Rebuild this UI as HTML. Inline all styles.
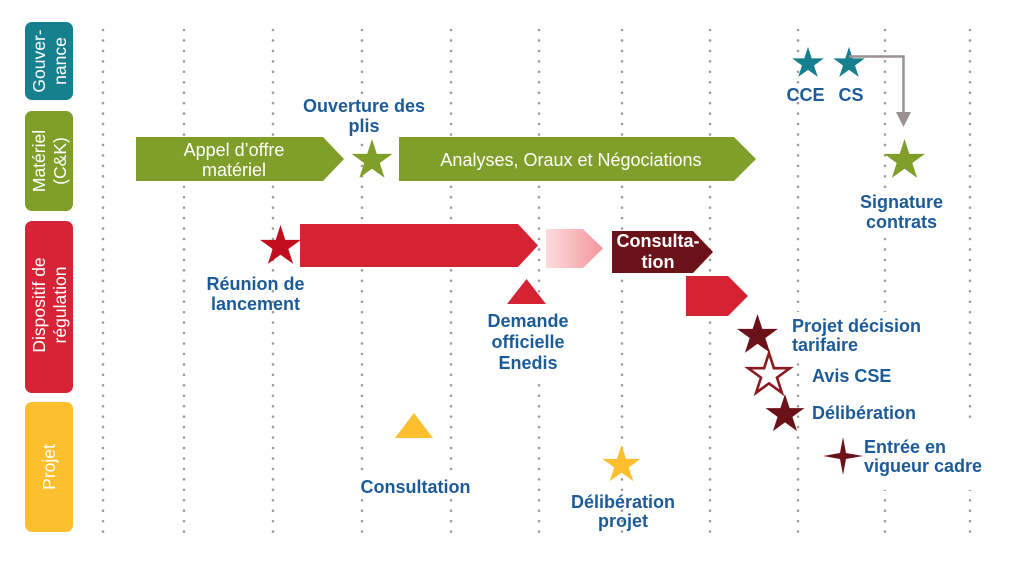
<!DOCTYPE html>
<html><head><meta charset="utf-8">
<style>
html,body{margin:0;padding:0;background:#fff;}
svg{display:block;}
text{font-family:"Liberation Sans",Arial,sans-serif;}
.b{font-weight:bold;font-size:18px;fill:#1d5b98;}
.w{font-size:18px;fill:#fff;}
.lane{font-size:17.5px;fill:#fff;}
</style></head><body>
<svg width="1024" height="562" viewBox="0 0 1024 562" xmlns="http://www.w3.org/2000/svg">
<defs>
<polygon id="st" points="0,-1 0.2245,-0.309 0.9511,-0.309 0.3633,0.118 0.5878,0.809 0,0.382 -0.5878,0.809 -0.3633,0.118 -0.9511,-0.309 -0.2245,-0.309"/>
<linearGradient id="pg" x1="0" y1="0" x2="1" y2="0">
<stop offset="0" stop-color="#fcdde0"/><stop offset="1" stop-color="#f4959b"/>
</linearGradient>
</defs>
<rect width="1024" height="562" fill="#fff"/>

<!-- dotted grid -->
<g stroke="#a39b9b" stroke-width="2.6" stroke-linecap="round" stroke-dasharray="0 10.45">
<line x1="103" y1="30" x2="103" y2="532"/>
<line x1="184" y1="30" x2="184" y2="532"/>
<line x1="273" y1="30" x2="273" y2="532"/>
<line x1="362" y1="30" x2="362" y2="532"/>
<line x1="451" y1="30" x2="451" y2="532"/>
<line x1="539" y1="30" x2="539" y2="532"/>
<line x1="622" y1="30" x2="622" y2="532"/>
<line x1="710" y1="30" x2="710" y2="532"/>
<line x1="798" y1="30" x2="798" y2="532"/>
<line x1="885" y1="30" x2="885" y2="532"/>
<line x1="970" y1="30" x2="970" y2="532"/>
</g>

<!-- white masks behind some labels -->
<g fill="#fff">
<rect x="300" y="96" width="130" height="40"/>
<rect x="858" y="194" width="88" height="40"/>
<rect x="485" y="308" width="87" height="68"/>
<rect x="790" y="312" width="135" height="46"/>
<rect x="808" y="358" width="112" height="66"/>
<rect x="860" y="418" width="128" height="72"/>
<rect x="358" y="473" width="116" height="25"/>
</g>

<!-- lane boxes -->
<rect x="25" y="22" width="48" height="78" rx="7" fill="#17808f"/>
<rect x="25" y="111" width="48" height="100" rx="7" fill="#7f9f2a"/>
<rect x="25" y="221" width="48" height="172" rx="7" fill="#d52435"/>
<rect x="25" y="402" width="48" height="130" rx="7" fill="#fdbf2e"/>

<g class="lane" text-anchor="middle">
<text transform="translate(45,61) rotate(-90)">Gouver-</text>
<text transform="translate(66,61) rotate(-90)">nance</text>
<text transform="translate(45,161) rotate(-90)">Matériel</text>
<text transform="translate(66,161) rotate(-90)">(C&amp;K)</text>
<text transform="translate(45,305) rotate(-90)">Dispositif de</text>
<text transform="translate(66,305) rotate(-90)">régulation</text>
<text transform="translate(55,467) rotate(-90)">Projet</text>
</g>

<!-- Materiel lane -->
<polygon points="136,137 323,137 344,159 323,181 136,181" fill="#7f9f2a"/>
<polygon points="399,137 734,137 756,159 734,181 399,181" fill="#7f9f2a"/>
<text class="w" x="234" y="156" text-anchor="middle">Appel d’offre</text>
<text class="w" x="234" y="176" text-anchor="middle">matériel</text>
<text class="w" x="571" y="166" text-anchor="middle">Analyses, Oraux et Négociations</text>
<use href="#st" transform="translate(372,160.5) scale(21.5)" fill="#7f9f2a"/>
<text class="b" x="364" y="112" text-anchor="middle">Ouverture des</text>
<text class="b" x="364" y="132" text-anchor="middle">plis</text>

<!-- Gouvernance -->
<use href="#st" transform="translate(808,63.5) scale(16.6)" fill="#17808f"/>
<use href="#st" transform="translate(849,63.5) scale(16.6)" fill="#17808f"/>
<polyline points="849,56.5 903.5,56.5 903.5,113" fill="none" stroke="#9b9191" stroke-width="2.5"/>
<polygon points="896,112 911,112 903.5,127" fill="#9b9191"/>
<text class="b" x="805.5" y="101" text-anchor="middle">CCE</text>
<text class="b" x="851" y="101" text-anchor="middle">CS</text>
<use href="#st" transform="translate(904.5,160.5) scale(21.5)" fill="#7f9f2a"/>
<text class="b" x="901.5" y="208" text-anchor="middle">Signature</text>
<text class="b" x="901.5" y="228" text-anchor="middle">contrats</text>

<!-- Dispositif -->
<use href="#st" transform="translate(280.5,246.5) scale(21.5)" fill="#c10e1f"/>
<polygon points="300,224 518,224 538,245.5 518,267 300,267" fill="#d42434"/>
<polygon points="546,229 583,229 603,248.5 583,268 546,268" fill="url(#pg)"/>
<polygon points="612,231 693,231 713,252 693,273 612,273" fill="#6b1219"/>
<text x="658" y="247" text-anchor="middle" style="font-weight:bold;font-size:18px;fill:#fff">Consulta-</text>
<text x="658" y="268" text-anchor="middle" style="font-weight:bold;font-size:18px;fill:#fff">tion</text>
<polygon points="686,276 728,276 748,296 728,316 686,316" fill="#d42434"/>
<polygon points="507,304 526.5,279 546,304" fill="#d42434"/>
<text class="b" x="255.5" y="290" text-anchor="middle">Réunion de</text>
<text class="b" x="255.5" y="310" text-anchor="middle">lancement</text>
<text class="b" x="528" y="327" text-anchor="middle">Demande</text>
<text class="b" x="528" y="348" text-anchor="middle">officielle</text>
<text class="b" x="528" y="369" text-anchor="middle">Enedis</text>

<use href="#st" transform="translate(757.5,335.5) scale(21.5)" fill="#6b1219"/>
<polygon points="769,353 773.9,368.2 789.9,368.2 777,377.6 781.9,392.8 769,383.4 756.1,392.8 761,377.6 748.1,368.2 764.1,368.2" fill="#fff" stroke="#8a1a20" stroke-width="2.6"/>
<use href="#st" transform="translate(785,414.5) scale(20.5)" fill="#6b1219"/>
<polygon points="843,437 846,453 863,456 846,459 843,475 840,459 823,456 840,453" fill="#6b1219"/>
<text class="b" x="792" y="332">Projet décision</text>
<text class="b" x="792" y="351">tarifaire</text>
<text class="b" x="812" y="382">Avis CSE</text>
<text class="b" x="812" y="419">Délibération</text>
<text class="b" x="864" y="453">Entrée en</text>
<text class="b" x="864" y="472">vigueur cadre</text>

<!-- Projet -->
<polygon points="395,438 414,413 433,438" fill="#fdbf2e"/>
<text class="b" x="415.5" y="493" text-anchor="middle">Consultation</text>
<use href="#st" transform="translate(621.5,465) scale(20)" fill="#fdbf2e"/>
<text class="b" x="623" y="508" text-anchor="middle">Délibération</text>
<text class="b" x="623" y="527" text-anchor="middle">projet</text>
</svg>
</body></html>
